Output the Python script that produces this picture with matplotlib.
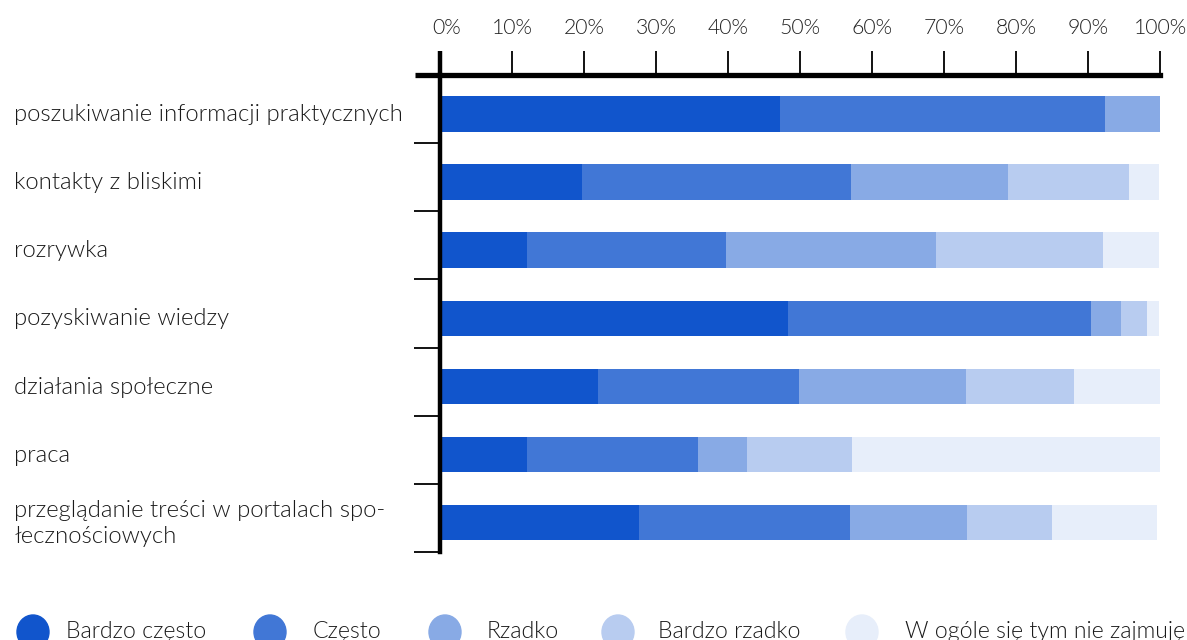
import matplotlib.pyplot as plt
import matplotlib.transforms as mtransforms
from matplotlib.patches import Ellipse

# categories (top to bottom)
categories = [
    "poszukiwanie informacji praktycznych",
    "kontakty z bliskimi",
    "rozrywka",
    "pozyskiwanie wiedzy",
    "działania społeczne",
    "praca",
    "przeglądanie treści w portalach spo-\nłecznościowych",
]
series_names = ["Bardzo często", "Często", "Rzadko", "Bardzo rzadko",
                "W ogóle się tym nie zajmuję"]

bardzo_czesto = [47.2, 19.7, 12.1, 48.3, 21.9, 12.1, 27.6]
czesto = [45.2, 37.4, 27.6, 42.1, 27.9, 23.8, 29.3]
rzadko = [7.6, 21.8, 29.2, 4.2, 23.3, 6.7, 16.3]
bardzo_rzadko = [0.0, 16.8, 23.2, 3.6, 14.9, 14.6, 11.8]
wcale = [0.0, 4.2, 7.8, 1.7, 12.0, 42.9, 14.6]

xticks = [0, 10, 20, 30, 40, 50, 60, 70, 80, 90, 100]

colors = ["#1155CC", "#4177D6", "#88AAE5", "#B8CCF0", "#E7EEFA"]

plt.rcParams['font.family'] = ['Lato', 'DejaVu Sans']
LIGHT = 300  # Lato Light, not Hairline

fig = plt.figure(figsize=(11.87, 6.4), dpi=100)
ax = fig.add_axes([440 / 1187, 88 / 640, 720 / 1187, 477 / 640])

series = [bardzo_czesto, czesto, rzadko, bardzo_rzadko, wcale]
ypos = [i + 0.07 for i in range(len(categories))]
left = [0.0] * len(categories)
for vals, col in zip(series, colors):
    ax.barh(ypos, vals, left=left, height=0.52, color=col, linewidth=0)
    left = [l + v for l, v in zip(left, vals)]

ax.set_xlim(0, 100)
ax.set_ylim(len(categories) - 0.5, -0.5)

# x axis on top
ax.xaxis.tick_top()
ax.set_xticks(xticks)
ax.set_xticklabels([f"{t}%" for t in xticks], fontsize=15.3,
                   fontweight=LIGHT, color='#222222')
ax.tick_params(axis='x', direction='out', length=17, width=1.3,
               pad=10, color='black')
# the 0% label sits a bit to the right of its tick
lbl0 = ax.get_xticklabels()[0]
lbl0.set_transform(lbl0.get_transform() +
                   mtransforms.ScaledTranslation(7 / 100, 0, fig.dpi_scale_trans))

# y ticks at category boundaries
ax.set_yticks([i + 0.5 for i in range(len(categories))])
ax.set_yticklabels([])
ax.tick_params(axis='y', direction='out', length=19, width=1.3, color='black')

for s in ['right', 'bottom']:
    ax.spines[s].set_visible(False)
ax.spines['top'].set_linewidth(3.8)
ax.spines['left'].set_linewidth(3.2)

# extensions of the axis lines
ax.plot([-3.5, 0], [-0.5, -0.5], color='black', lw=3.8,
        clip_on=False, solid_capstyle='butt')
ax.plot([0, 0], [-0.5, -0.85], color='black', lw=3.2,
        clip_on=False, solid_capstyle='butt')

# category labels, left aligned at figure margin
trans = mtransforms.blended_transform_factory(fig.transFigure, ax.transData)
for i, name in enumerate(categories):
    ax.text(14 / 1187, i + 0.08, name, transform=trans, ha='left',
            va='center', fontsize=17.2, fontweight=LIGHT, color='#1a1a1a',
            linespacing=1.25)

# legend along the bottom edge
leg_cx = [33, 270, 445, 618, 862]
leg_tx = [66, 313, 487, 658, 905]
for cx, tx, col, name in zip(leg_cx, leg_tx, colors, series_names):
    fig.patches.append(Ellipse((cx / 1187, 8 / 640), 32 / 1187, 34 / 640,
                               transform=fig.transFigure, color=col))
    fig.text(tx / 1187, 2 / 640, name, ha='left', va='baseline',
             fontsize=16.7, fontweight=LIGHT, color='#1a1a1a')

fig.savefig("out.png", dpi=100)
